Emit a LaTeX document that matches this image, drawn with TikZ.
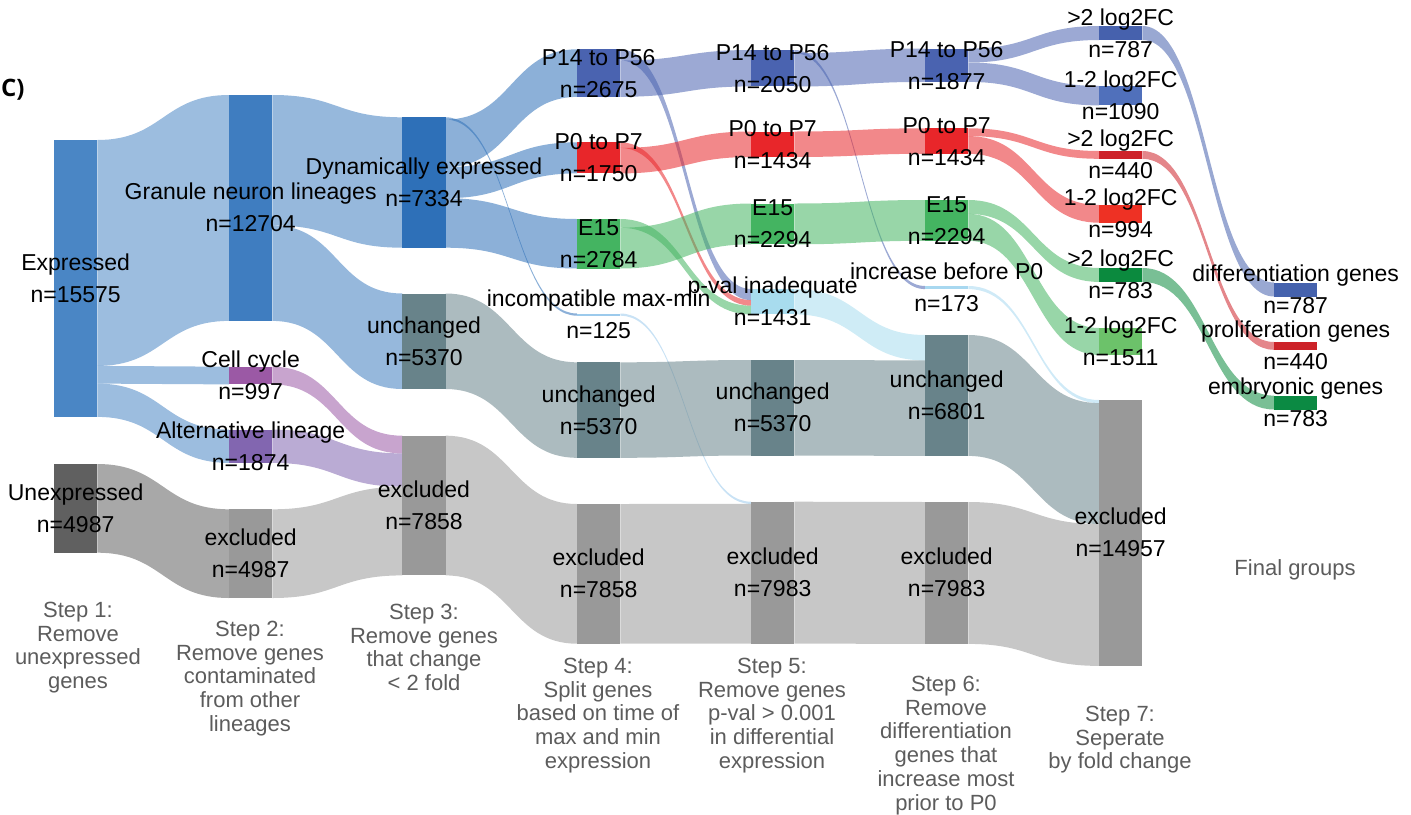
\documentclass[tikz,border=0pt]{standalone}
\usepackage{fontspec}
\setmainfont{Liberation Sans}
\newfontfamily\stepfont{Liberation Sans}
\newfontfamily\panelfont{Open Sans}
\usetikzlibrary{calc}
\pgfdeclarelayer{links}
\pgfdeclarelayer{bars}
\pgfsetlayers{links,bars,main}

\definecolor{cExpr}{HTML}{4A86C5}
\definecolor{cGran}{HTML}{3F7DC0}
\definecolor{cDyn}{HTML}{2E70B8}
\definecolor{cCell}{HTML}{9B59A5}
\definecolor{cAlt}{HTML}{8266B0}
\definecolor{cUnexp}{HTML}{606060}
\definecolor{cExcl}{HTML}{999999}
\definecolor{cUnch}{HTML}{68838A}
\definecolor{cPfour}{HTML}{4A63B0}
\definecolor{cPzero}{HTML}{E8262A}
\definecolor{cEfif}{HTML}{44B461}
\definecolor{cPval}{HTML}{A8DCEE}
\definecolor{cInc}{HTML}{9CCAEC}
\definecolor{cIncr}{HTML}{A8D8F0}
\definecolor{cBtwo}{HTML}{4661AD}
\definecolor{cBone}{HTML}{5070BB}
\definecolor{cRtwo}{HTML}{CD2229}
\definecolor{cRone}{HTML}{EE3124}
\definecolor{cGtwo}{HTML}{0B8A3E}
\definecolor{cGone}{HTML}{6CC26A}
\definecolor{cDiff}{HTML}{4562AD}
\definecolor{cProl}{HTML}{CC2228}
\definecolor{cEmb}{HTML}{0B8A43}
\definecolor{stepgray}{HTML}{5C5C5C}

\tikzset{
  bar/.style={rectangle, inner sep=0pt, outer sep=0pt, minimum width=43.3pt, draw=none},
  lbl/.style={inner sep=0pt, anchor=base, font=\fontsize{23}{27}\selectfont, text=black},
  steptxt/.style={inner sep=0pt, anchor=north, align=center, text=stepgray,
    font=\stepfont\fontsize{22}{23.7}\selectfont},
  flow/.style={fill opacity=0.55},
}

% name, x, top, bottom, colour, label, count
\newcommand{\snode}[7]{%
  \begin{pgfonlayer}{bars}
  \node[bar, fill=#5, minimum height={#4-#3}, anchor=north west] (#1) at (#2,#3) {};
  \end{pgfonlayer}
  \node[lbl] (#1-a) at ($(#1.center)+(0,-8)$) {#6};
  \node[lbl] (#1-b) at ($(#1.center)+(0,24)$) {#7};
}
% source, source offset, target, target offset, thickness, colour
\newcommand{\flowband}[6]{%
  \begin{pgfonlayer}{links}
  \fill[flow, #6] ($(#1.north east)+(0,#2)$) .. controls +(65.5,0) and +(-65.5,0) ..
    ($(#3.north west)+(0,#4)$) -- ++(0,#5) .. controls +(-65.5,0) and +(65.5,0) ..
    ($(#1.north east)+(0,#2+#5)$) -- cycle;
  \end{pgfonlayer}
}

\begin{document}
\begin{tikzpicture}[x=1pt,y=-1pt]
\useasboundingbox (0,0) rectangle (1411,814);

% column 1
\snode{expr}{54}{140.0}{416.9}{cExpr}{Expressed}{n=15575}
\snode{unexp}{54}{464.0}{552.7}{cUnexp}{Unexpressed}{n=4987}
% column 2
\snode{gran}{229}{95.0}{320.9}{cGran}{Granule neuron lineages}{n=12704}
\snode{cell}{229}{366.7}{384.4}{cCell}{Cell cycle}{n=997}
\snode{alt}{229}{429.6}{462.9}{cAlt}{Alternative lineage}{n=1874}
\snode{exb}{229}{509.3}{598.0}{cExcl}{excluded}{n=4987}
% column 3
\snode{dyn}{402.3}{117.3}{247.7}{cDyn}{Dynamically expressed}{n=7334}
\snode{unc}{402.3}{293.5}{389.0}{cUnch}{unchanged}{n=5370}
\snode{exc}{402.3}{435.7}{575.4}{cExcl}{excluded}{n=7858}
% column 4
\snode{pfa}{577}{49.3}{96.9}{cPfour}{P14 to P56}{n=2675}
\snode{pza}{577}{142.3}{173.4}{cPzero}{P0 to P7}{n=1750}
\snode{efa}{577}{219.0}{268.5}{cEfif}{E15}{n=2784}
\snode{inc}{577}{313.5}{315.7}{cInc}{incompatible max-min}{n=125}
\snode{und}{577}{362.3}{457.8}{cUnch}{unchanged}{n=5370}
\snode{exd}{577}{504.0}{643.7}{cExcl}{excluded}{n=7858}
% column 5
\snode{pfb}{751}{50.0}{86.4}{cPfour}{P14 to P56}{n=2050}
\snode{pzb}{751}{131.5}{157.0}{cPzero}{P0 to P7}{n=1434}
\snode{efb}{751}{203.5}{244.3}{cEfif}{E15}{n=2294}
\snode{pval}{751}{289.0}{314.4}{cPval}{p-val inadequate}{n=1431}
\snode{une}{751}{360.0}{455.5}{cUnch}{unchanged}{n=5370}
\snode{exe}{751}{501.7}{643.6}{cExcl}{excluded}{n=7983}
% column 6
\snode{pfc}{925}{48.5}{81.9}{cPfour}{P14 to P56}{n=1877}
\snode{pzc}{925}{128.3}{153.8}{cPzero}{P0 to P7}{n=1434}
\snode{efc}{925}{200.0}{240.8}{cEfif}{E15}{n=2294}
\snode{incr}{925}{286.0}{289.1}{cIncr}{increase before P0}{n=173}
\snode{unf}{925}{335.0}{455.9}{cUnch}{unchanged}{n=6801}
\snode{exf}{925}{502.0}{643.9}{cExcl}{excluded}{n=7983}
% column 7
\snode{btwo}{1099}{26.0}{40.0}{cBtwo}{>2 log2FC}{n=787}
\snode{bone}{1099}{86.0}{105.4}{cBone}{1-2 log2FC}{n=1090}
\snode{rtwo}{1099}{151.0}{158.8}{cRtwo}{>2 log2FC}{n=440}
\snode{rone}{1099}{205.0}{222.7}{cRone}{1-2 log2FC}{n=994}
\snode{gtwo}{1099}{268.0}{281.9}{cGtwo}{>2 log2FC}{n=783}
\snode{gone}{1099}{328.0}{354.9}{cGone}{1-2 log2FC}{n=1511}
\snode{exg}{1099}{400.0}{665.9}{cExcl}{excluded}{n=14957}
% column 8
\snode{diff}{1274}{282.5}{296.5}{cDiff}{differentiation genes}{n=787}
\snode{prol}{1274}{342.0}{349.8}{cProl}{proliferation genes}{n=440}
\snode{emb}{1274}{395.6}{409.5}{cEmb}{embryonic genes}{n=783}

% flows
\flowband{expr}{0}{gran}{0}{225.9}{cExpr}
\flowband{expr}{225.9}{cell}{0}{17.7}{cExpr}
\flowband{expr}{243.6}{alt}{0}{33.3}{cExpr}
\flowband{unexp}{0}{exb}{0}{88.7}{cUnexp}
\flowband{gran}{0}{dyn}{0}{130.4}{cGran}
\flowband{gran}{130.4}{unc}{0}{95.5}{cGran}
\flowband{cell}{0}{exc}{0}{17.7}{cCell}
\flowband{alt}{0}{exc}{17.7}{33.3}{cAlt}
\flowband{exb}{0}{exc}{51.0}{88.7}{cExcl}
\flowband{dyn}{0}{inc}{0}{2.2}{cDyn}
\flowband{dyn}{2.2}{pfa}{0}{47.6}{cDyn}
\flowband{dyn}{49.8}{pza}{0}{31.1}{cDyn}
\flowband{dyn}{80.9}{efa}{0}{49.5}{cDyn}
\flowband{unc}{0}{und}{0}{95.5}{cUnch}
\flowband{exc}{0}{exd}{0}{139.7}{cExcl}
\flowband{pfa}{0}{pval}{0}{11.1}{cPfour}
\flowband{pfa}{11.1}{pfb}{0}{36.4}{cPfour}
\flowband{pza}{0}{pval}{11.1}{5.6}{cPzero}
\flowband{pza}{5.6}{pzb}{0}{25.5}{cPzero}
\flowband{efa}{0}{pval}{16.7}{8.7}{cEfif}
\flowband{efa}{8.7}{efb}{0}{40.8}{cEfif}
\flowband{inc}{0}{exe}{0}{2.2}{cInc}
\flowband{und}{0}{une}{0}{95.5}{cUnch}
\flowband{exd}{0}{exe}{2.2}{139.7}{cExcl}
\flowband{pfb}{0}{incr}{0}{3.1}{cPfour}
\flowband{pfb}{3.1}{pfc}{0}{33.4}{cPfour}
\flowband{pzb}{0}{pzc}{0}{25.5}{cPzero}
\flowband{efb}{0}{efc}{0}{40.8}{cEfif}
\flowband{pval}{0}{unf}{0}{25.4}{cPval}
\flowband{une}{0}{unf}{25.4}{95.5}{cUnch}
\flowband{exe}{0}{exf}{0}{141.9}{cExcl}
\flowband{pfc}{0}{btwo}{0}{14.0}{cPfour}
\flowband{pfc}{14.0}{bone}{0}{19.4}{cPfour}
\flowband{pzc}{0}{rtwo}{0}{7.8}{cPzero}
\flowband{pzc}{7.8}{rone}{0}{17.7}{cPzero}
\flowband{efc}{0}{gtwo}{0}{13.9}{cEfif}
\flowband{efc}{13.9}{gone}{0}{26.9}{cEfif}
\flowband{incr}{0}{exg}{0}{3.1}{cIncr}
\flowband{unf}{0}{exg}{3.1}{120.9}{cUnch}
\flowband{exf}{0}{exg}{124.0}{141.9}{cExcl}
\flowband{btwo}{0}{diff}{0}{14.0}{cBtwo}
\flowband{rtwo}{0}{prol}{0}{7.8}{cRtwo}
\flowband{gtwo}{0}{emb}{0}{13.9}{cGtwo}

% panel letter
\node[inner sep=0pt, anchor=base west, font=\panelfont\bfseries\fontsize{24}{28}\selectfont] (panel) at (1,96) {C)};

% step captions
\node[steptxt] (s1) at (78,602) {Step 1:\\Remove\\unexpressed\\genes};
\node[steptxt] (s2) at (250,621) {Step 2:\\Remove genes\\contaminated\\from other\\lineages};
\node[steptxt] (s3) at (424,604) {Step 3:\\Remove genes\\that change\\< 2 fold};
\node[steptxt] (s4) at (598,658) {Step 4:\\Split genes\\based on time of\\max and min\\expression};
\node[steptxt] (s5) at (772,658) {Step 5:\\Remove genes\\p-val > 0.001\\in differential\\expression};
\node[steptxt] (s6) at (946,676) {Step 6:\\Remove\\differentiation\\genes that\\increase most\\prior to P0};
\node[steptxt] (s7) at (1120,706) {Step 7:\\Seperate\\by fold change};
\node[steptxt] (fin) at (1295,559) {Final groups};
\end{tikzpicture}
\end{document}
